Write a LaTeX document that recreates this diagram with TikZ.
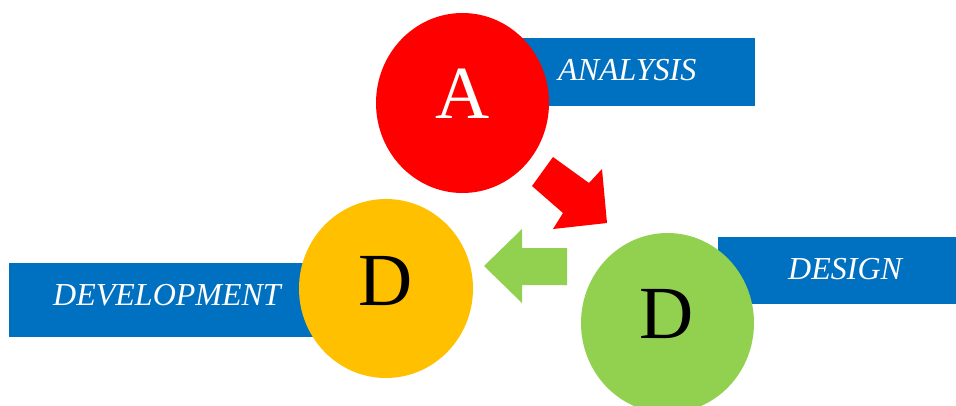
\documentclass[tikz,border=0pt]{standalone}
\usepackage{fontspec}
\setmainfont{Liberation Serif}
\usetikzlibrary{shapes.geometric}
\definecolor{cred}{HTML}{FF0000}
\definecolor{cblue}{HTML}{0070C0}
\definecolor{cyel}{HTML}{FFC000}
\definecolor{cgreen}{HTML}{92D050}
\begin{document}
\begin{tikzpicture}[x=1pt,y=-1pt,
  labelbox/.style={fill=cblue,draw=none,inner sep=0pt},
  bigdisc/.style={ellipse,draw=none,minimum width=173pt,minimum height=180pt,inner sep=0pt},
  labeltext/.style={text=white,font=\fontsize{32}{38}\selectfont\itshape,anchor=base west,inner sep=0pt},
  letter/.style={font=\fontsize{75}{90}\selectfont,anchor=base,inner sep=0pt}]
\useasboundingbox (0,0) rectangle (956,405);
% boxes
\fill[cblue] (470,38) rectangle (755,106) coordinate (anbox);
\fill[cblue] (9,263) rectangle (380,337) coordinate (dvbox);
\fill[cblue] (718,237) rectangle (956,304) coordinate (dsbox);
% circles
\node[bigdisc,fill=cred] (cA) at (462.5,103) {};
\node[bigdisc,fill=cyel,minimum width=174pt,minimum height=179pt] (cDev) at (386,288.5) {};
\node[bigdisc,fill=cgreen] (cDes) at (667.5,323) {};
% letters
\node[letter,text=white] (lA) at (463,118) {A};
\node[letter,text=black] (lDev) at (385.5,305) {D};
\node[letter,text=black] (lDes) at (667,338) {D};
% labels
\node[labeltext] (tAn) at (558,80) {ANALYSIS};
\node[labeltext] (tDev) at (53,305) {DEVELOPMENT};
\node[labeltext] (tDes) at (788,279) {DESIGN};
% block arrows
\fill[cred] (553,157) -- (589,183) -- (602,169) -- (607,223) -- (553,229) -- (563,213) -- (532,186) -- cycle;
\fill[cgreen] (484,266) -- (522,229) -- (522,248) -- (567,248) -- (567,285) -- (522,285) -- (522,303) -- cycle;
\end{tikzpicture}
\end{document}
